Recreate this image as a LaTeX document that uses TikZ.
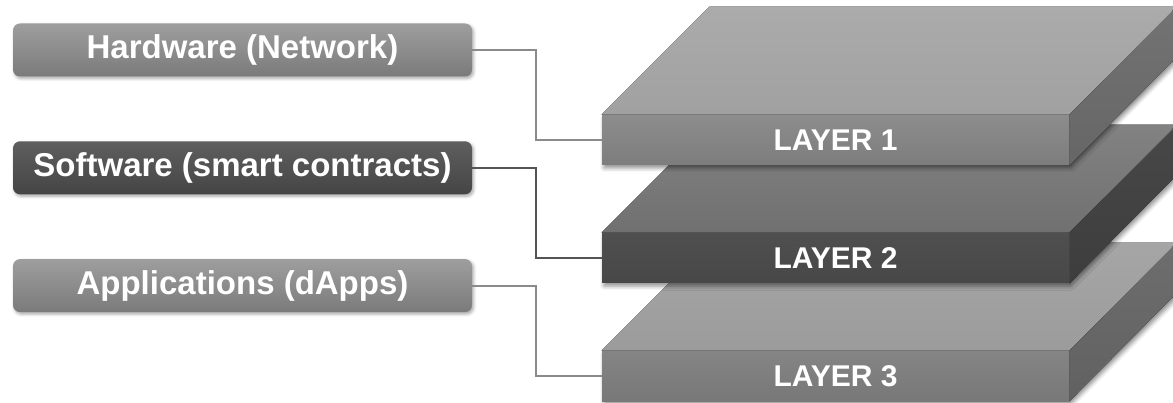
\documentclass[tikz,border=0pt]{standalone}
\usepackage{fontspec}
\setmainfont{Liberation Sans}
\usepackage{xcolor}
\usepackage{tikz}
\usetikzlibrary{positioning, calc, shadows.blur}

% one slab: name, centre of the front face, colour set, label
\newcommand{\slab}[4]{%
    \fill[white, blur shadow={shadow xshift=2pt, shadow yshift=-3pt, shadow blur radius=4pt, shadow opacity=45}]
        ($(#2)+(-233.5,25)$) -- ++(108,108) -- ++(467,0) -- ++(0,-50) -- ++(-108,-108) -- ++(-467,0) -- cycle;
    \node (#1) [front, front#3] at (#2) {#4};
    \fill[top#3] (#1.north west) -- ++(108,108) -- ++(467,0) -- (#1.north east) -- cycle;
    \fill[side#3] (#1.north east) -- ++(108,108) -- ++(0,-50) -- (#1.south east) -- cycle;
}

\begin{document}
\begin{tikzpicture}[x=1pt, y=1pt, node distance=64pt, thick,
    box/.style={rectangle, rounded corners=7pt, minimum width=459pt, minimum height=53pt, inner sep=0pt,
        text=white, font=\bfseries\fontsize{33}{38}\selectfont,
        blur shadow={shadow xshift=1.5pt, shadow yshift=-2pt, shadow blur radius=3pt, shadow opacity=35}},
    lightbox/.style={box, top color=black!38, bottom color=black!52},
    darkbox/.style={box, top color=black!63, bottom color=black!73},
    front/.style={rectangle, minimum width=467pt, minimum height=50pt, inner sep=0pt,
        text=white, font=\bfseries\fontsize{30}{36}\selectfont},
    front1/.style={top color=black!45, bottom color=black!51},
    top1/.style={top color=black!33, bottom color=black!37},
    side1/.style={top color=black!55, bottom color=black!60},
    front2/.style={top color=black!69, bottom color=black!72},
    top2/.style={top color=black!49, bottom color=black!56},
    side2/.style={top color=black!72, bottom color=black!76},
    front3/.style={top color=black!48, bottom color=black!53},
    top3/.style={top color=black!35, bottom color=black!39},
    side3/.style={top color=black!57, bottom color=black!62},
    link/.style={line width=2pt, draw=black!46},
    darklink/.style={line width=2pt, draw=black!67}]

    \useasboundingbox (0,0) rectangle (1173,-403);

    % Layers, drawn from the bottom up
    \slab{layer3}{835.5,-376}{3}{LAYER 3}
    \slab{layer2}{835.5,-258}{2}{LAYER 2}
    \slab{layer1}{835.5,-140}{1}{LAYER 1}

    % Nodes
    \node (hw) [lightbox] at (242.5,-50) {Hardware (Network)};
    \node (sw) [darkbox, below=of hw] {Software (smart contracts)};
    \node (apps) [lightbox, below=of sw] {Applications (dApps)};

    % Links
    \draw[link] (hw.east) -- ++(64,0) |- (layer1.west);
    \draw[darklink] (sw.east) -- ++(64,0) |- (layer2.west);
    \draw[link] (apps.east) -- ++(64,0) |- (layer3.west);
\end{tikzpicture}
\end{document}
